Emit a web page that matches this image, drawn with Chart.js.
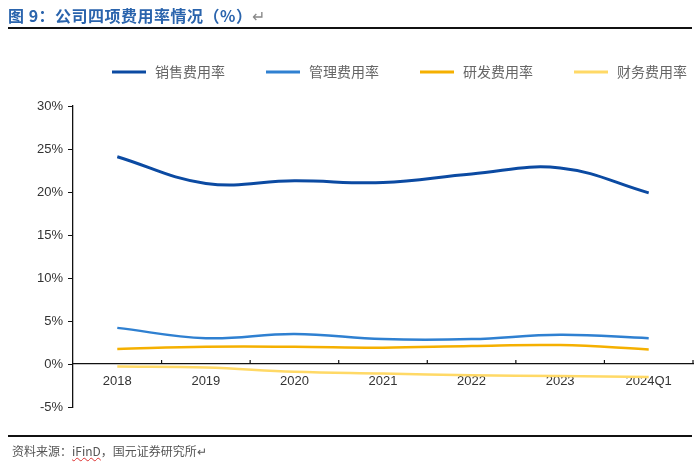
<!DOCTYPE html>
<html>
<head>
<meta charset="utf-8">
<script src="https://cdn.jsdelivr.net/npm/chart.js@4.4.1/dist/chart.umd.min.js"></script>
<style>
  body { margin: 0; background: #fff; }
  #wrap { position: relative; width: 700px; height: 475px; overflow: hidden; }
  #title { position: absolute; left: 8px; top: 3px; font: bold 16px "Noto Sans CJK SC", sans-serif; color: #2a64ad; letter-spacing: 0.5px; }
  #title .pm { color: #888; font-weight: normal; }
  #topline { position: absolute; left: 8px; top: 27px; width: 684px; height: 2px; background: #111; }
  #botline { position: absolute; left: 8px; top: 435px; width: 684px; height: 2px; background: #111; }
  #source { position: absolute; left: 12px; top: 442px; font: 12px "Noto Sans CJK SC", sans-serif; color: #555; }
  #source .sp { text-decoration: underline wavy #d33; text-decoration-thickness: 1px; }
  #chartBox { position: absolute; left: 0; top: 0; width: 700px; height: 475px; }
</style>
</head>
<body>
<div id="wrap">
  <div id="chartBox"><canvas id="myChart"></canvas></div>
  <div id="title">图 9：公司四项费用率情况（%）<span class="pm">↵</span></div>
  <div id="topline"></div>
  <div id="botline"></div>
  <div id="source">资料来源：<span class="sp">iFinD</span>，国元证券研究所<span class="pm">↵</span></div>
</div>
<script>
// categories and series (%)
var years = ["2018", "2019", "2020", "2021", "2022", "2023", "2024Q1"];
var salesRate = [24.1, 21.0, 21.3, 21.1, 22.1, 22.8, 19.9];
var adminRate = [4.2, 3.0, 3.5, 2.9, 2.9, 3.4, 3.0];
var rdRate = [1.75, 2.0, 2.0, 1.9, 2.1, 2.2, 1.7];
var finRate = [-0.3, -0.4, -0.9, -1.1, -1.3, -1.4, -1.5];
var seriesNames = ["销售费用率", "管理费用率", "研发费用率", "财务费用率"];
var yTicks = [-5, 0, 5, 10, 15, 20, 25, 30];

var colors = ['#0b4aa2', '#2f80d1', '#f5b000', '#ffd966'];

// legend drawn by hand so it sits where the original one does
var legendPlugin = {
    id: 'handLegend',
    afterDraw: function(chart) {
        var ctx = chart.ctx;
        ctx.save();
        chart.data.datasets.forEach(function(ds, i) {
            var x0 = 112 + i * 154;
            ctx.strokeStyle = ds.borderColor;
            ctx.lineWidth = 3;
            ctx.beginPath();
            ctx.moveTo(x0, 72);
            ctx.lineTo(x0 + 34, 72);
            ctx.stroke();
            ctx.fillStyle = '#666';
            ctx.font = '14px "Noto Sans CJK SC"';
            ctx.textBaseline = 'middle';
            ctx.fillText(ds.label, x0 + 43, 72);
        });
        ctx.restore();
    }
};

// small upward tick marks on the zero axis, between categories
var xTickPlugin = {
    id: 'upTicks',
    afterDraw: function(chart) {
        var xs = chart.scales.x, ys = chart.scales.y;
        var y0 = ys.getPixelForValue(0);
        var step = xs.getPixelForValue(1) - xs.getPixelForValue(0);
        var ctx = chart.ctx;
        ctx.save();
        ctx.strokeStyle = '#111';
        ctx.lineWidth = 1.2;
        for (var i = 0; i < years.length; i++) {
            var x = xs.getPixelForValue(i) + step / 2;
            ctx.beginPath();
            ctx.moveTo(x, y0);
            ctx.lineTo(x, y0 - 4);
            ctx.stroke();
        }
        ctx.restore();
    }
};

var ctx = document.getElementById('myChart').getContext('2d');
var chart = new Chart(ctx, {
    type: 'line',
    data: {
        labels: years,
        datasets: [
            { label: seriesNames[0], data: salesRate, borderColor: colors[0], borderWidth: 3 },
            { label: seriesNames[1], data: adminRate, borderColor: colors[1], borderWidth: 2.5 },
            { label: seriesNames[2], data: rdRate, borderColor: colors[2], borderWidth: 2.5 },
            { label: seriesNames[3], data: finRate, borderColor: colors[3], borderWidth: 2.5 }
        ]
    },
    options: {
        responsive: true,
        maintainAspectRatio: false,
        animation: false,
        elements: {
            point: { radius: 0 },
            line: { tension: 0.4, fill: false }
        },
        layout: { padding: { left: 13, right: 7, top: 106, bottom: 68 } },
        plugins: {
            legend: { display: false },
            tooltip: { enabled: false }
        },
        scales: {
            x: {
                position: { y: 0 },
                offset: true,
                grid: { display: false, drawTicks: false },
                border: { display: true, color: '#111', width: 1.3 },
                ticks: {
                    padding: 10,
                    color: '#333',
                    font: { family: 'Liberation Sans', size: 13 },
                    maxRotation: 0
                }
            },
            y: {
                min: -5,
                max: 30,
                afterFit: function(s) { s.width = 60; },
                afterBuildTicks: function(s) {
                    s.ticks = yTicks.map(function(v) { return { value: v }; });
                },
                grid: { drawOnChartArea: false, tickLength: 5, color: '#111' },
                border: { display: true, color: '#111', width: 1.3 },
                ticks: {
                    padding: 5,
                    color: '#333',
                    font: { family: 'Liberation Sans', size: 13 },
                    callback: function(v) { return v + '%'; }
                }
            }
        }
    },
    plugins: [legendPlugin, xTickPlugin]
});
</script>
</body>
</html>
